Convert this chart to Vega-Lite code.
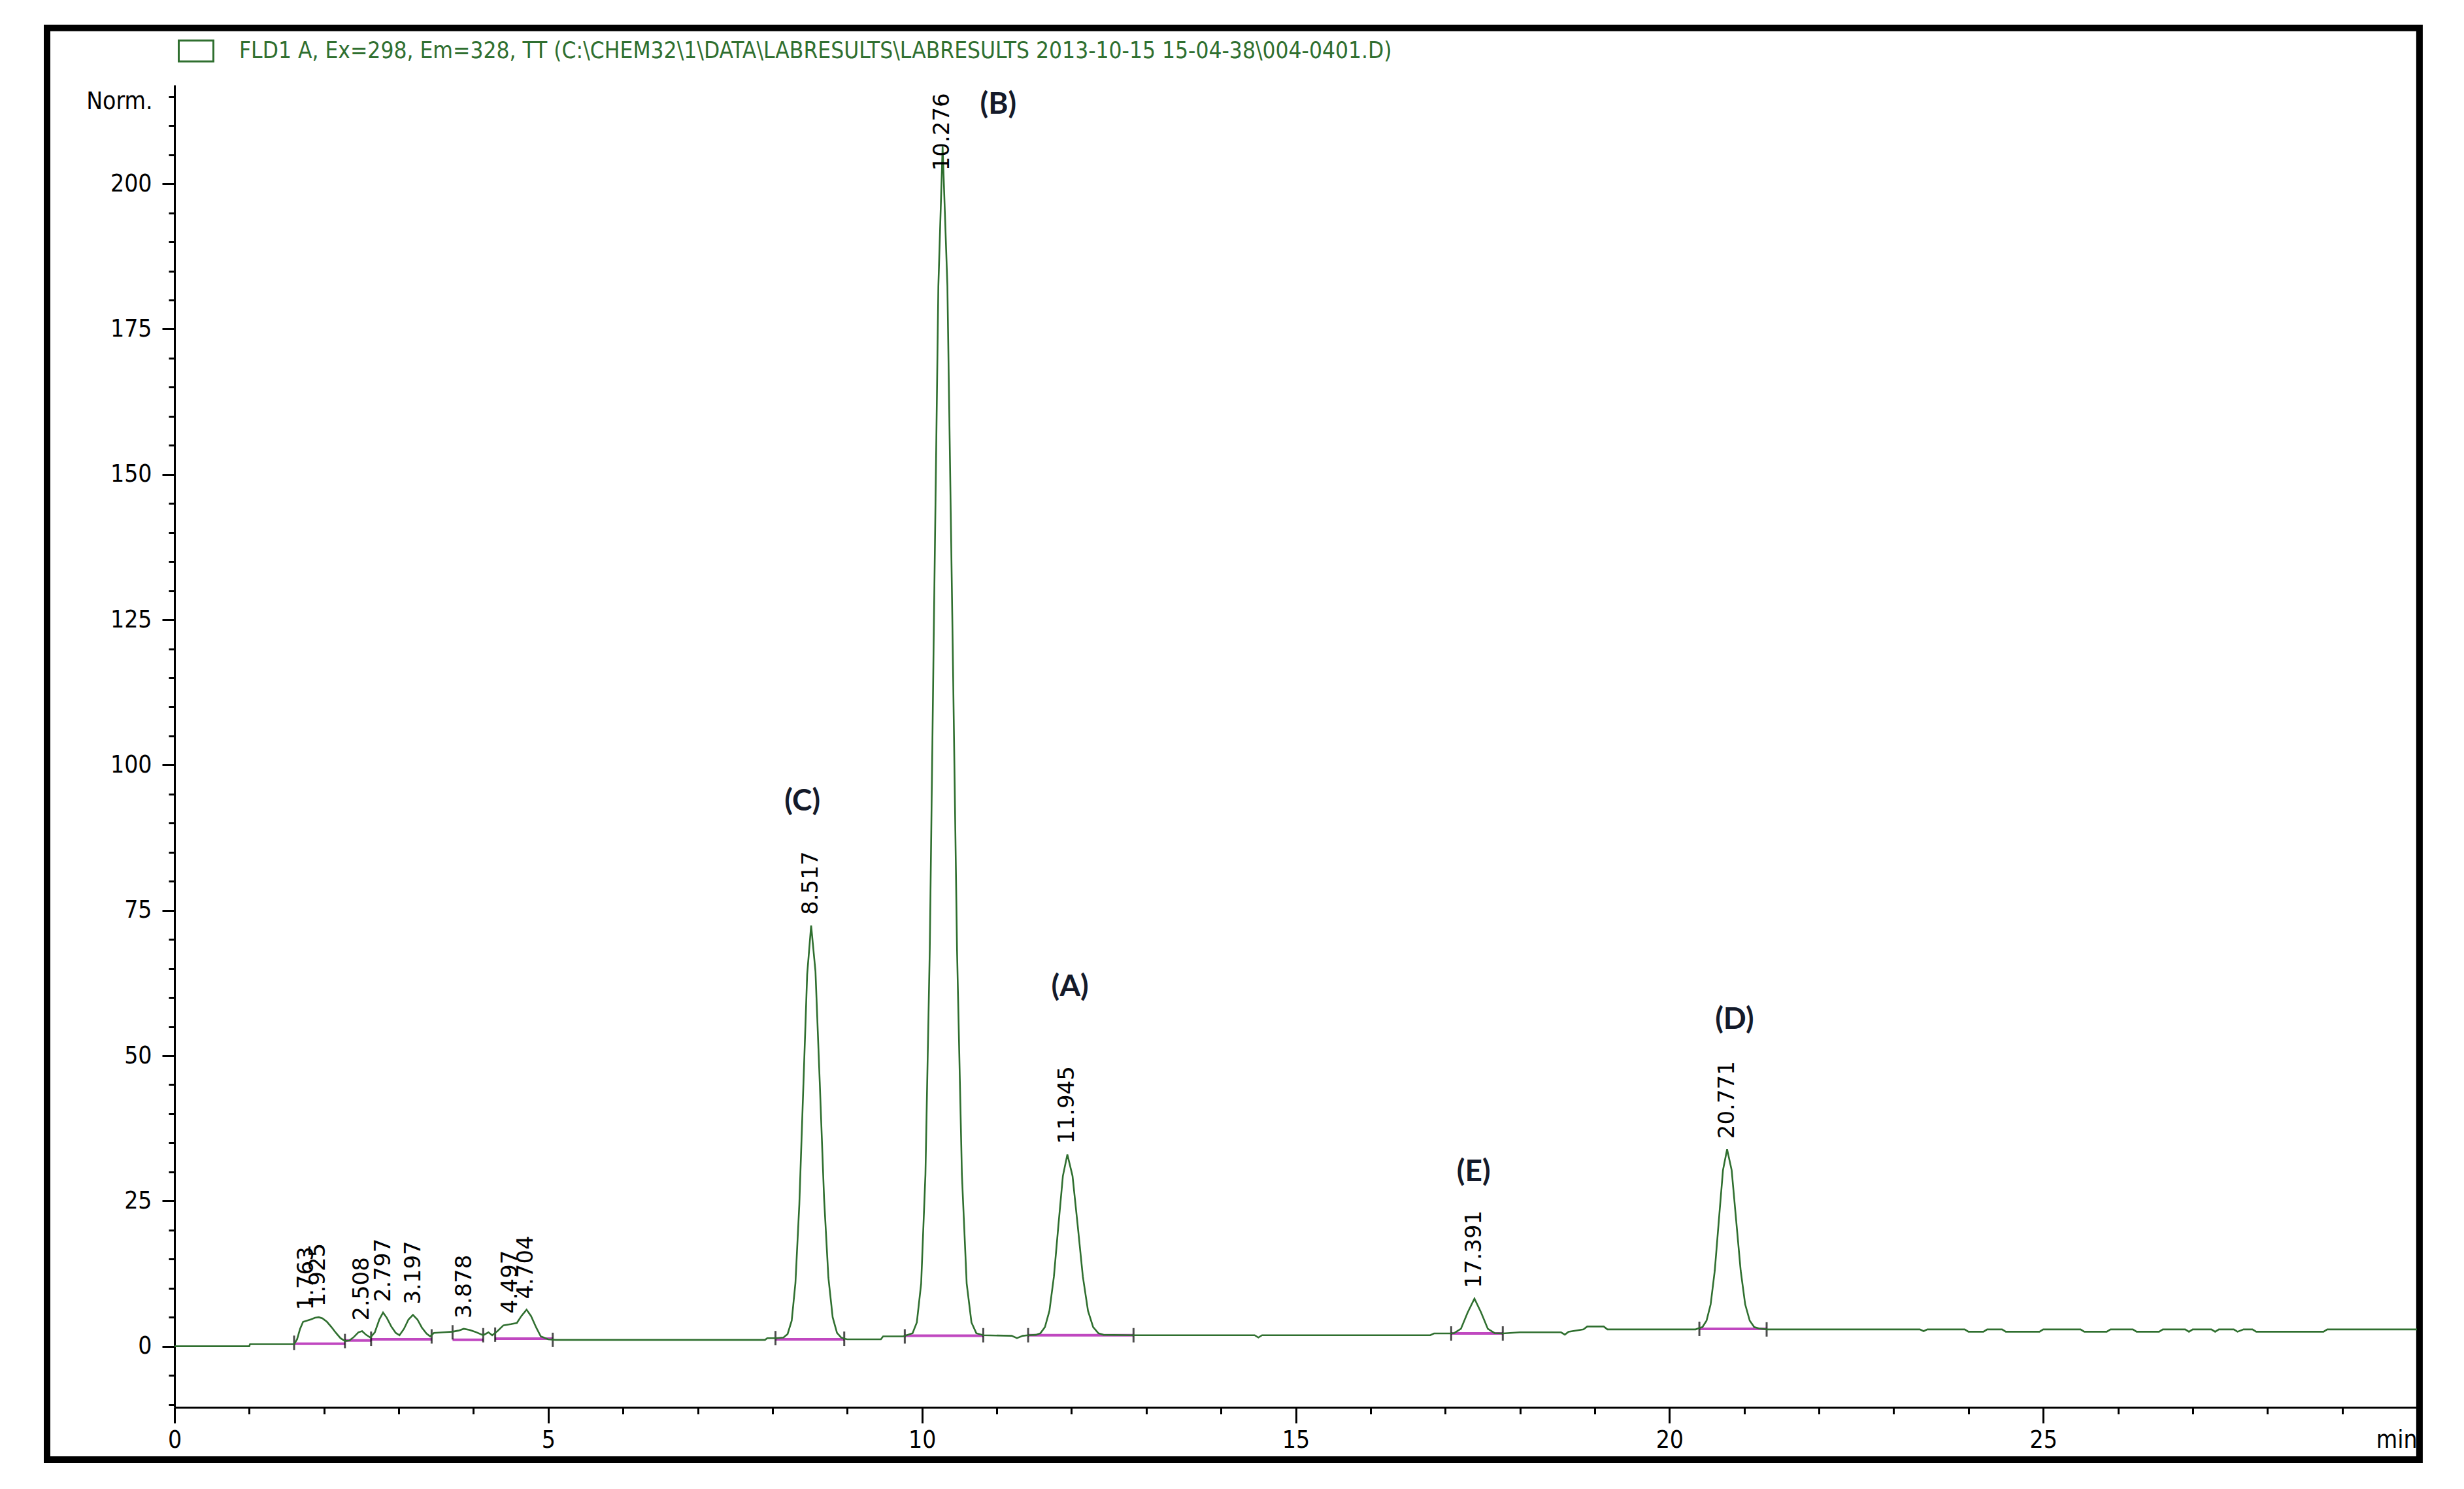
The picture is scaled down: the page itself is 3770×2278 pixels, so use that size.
{
  "$schema": "https://vega.github.io/schema/vega-lite/v6.json",
  "width": 3431,
  "height": 2023,
  "autosize": "none",
  "padding": {"left": 267, "top": 130, "right": 72, "bottom": 125},
  "background": "white",
  "config": {
    "view": {"stroke": null},
    "axis": {
      "grid": false,
      "domainColor": "black",
      "domainWidth": 3,
      "tickColor": "black",
      "tickWidth": 3,
      "labelColor": "black",
      "labelFont": "Liberation Sans Narrow, DejaVu Sans Condensed, Arial Narrow, sans-serif",
      "labelFontSize": 37,
      "titleColor": "black",
      "titleFont": "Liberation Sans Narrow, DejaVu Sans Condensed, Arial Narrow, sans-serif",
      "titleFontSize": 37,
      "titleFontWeight": "normal"
    }
  },
  "datasets": {
    "trace": [
      {"t": 0, "v": 0}, {"t": 1.0, "v": 0}, {"t": 1.01, "v": 0.35}, {"t": 1.6, "v": 0.35},
      {"t": 1.64, "v": 1.2}, {"t": 1.68, "v": 3.0}, {"t": 1.72, "v": 4.2}, {"t": 1.77, "v": 4.4},
      {"t": 1.82, "v": 4.6}, {"t": 1.88, "v": 4.9}, {"t": 1.93, "v": 5.0}, {"t": 1.98, "v": 4.8},
      {"t": 2.04, "v": 4.2}, {"t": 2.10, "v": 3.3}, {"t": 2.16, "v": 2.3}, {"t": 2.22, "v": 1.4},
      {"t": 2.28, "v": 0.9}, {"t": 2.34, "v": 1.0}, {"t": 2.40, "v": 1.6}, {"t": 2.46, "v": 2.4},
      {"t": 2.51, "v": 2.6}, {"t": 2.56, "v": 2.0}, {"t": 2.62, "v": 1.5}, {"t": 2.68, "v": 2.4},
      {"t": 2.74, "v": 4.6}, {"t": 2.79, "v": 5.8}, {"t": 2.84, "v": 4.9}, {"t": 2.90, "v": 3.4},
      {"t": 2.96, "v": 2.3}, {"t": 3.01, "v": 1.9}, {"t": 3.07, "v": 3.0}, {"t": 3.13, "v": 4.6},
      {"t": 3.19, "v": 5.4}, {"t": 3.25, "v": 4.6}, {"t": 3.31, "v": 3.2}, {"t": 3.37, "v": 2.2},
      {"t": 3.42, "v": 1.7}, {"t": 3.47, "v": 2.3}, {"t": 3.60, "v": 2.4}, {"t": 3.72, "v": 2.5},
      {"t": 3.80, "v": 2.7}, {"t": 3.87, "v": 3.0}, {"t": 3.95, "v": 2.8}, {"t": 4.02, "v": 2.5},
      {"t": 4.13, "v": 1.9}, {"t": 4.20, "v": 2.4}, {"t": 4.25, "v": 1.9}, {"t": 4.32, "v": 2.6},
      {"t": 4.40, "v": 3.6}, {"t": 4.50, "v": 3.8}, {"t": 4.58, "v": 4.0}, {"t": 4.64, "v": 5.2},
      {"t": 4.71, "v": 6.3}, {"t": 4.77, "v": 5.2}, {"t": 4.84, "v": 3.2}, {"t": 4.90, "v": 1.7},
      {"t": 5.0, "v": 1.2}, {"t": 5.1, "v": 1.1}, {"t": 7.9, "v": 1.1}, {"t": 7.93, "v": 1.4},
      {"t": 8.05, "v": 1.4}, {"t": 8.147, "v": 1.5}, {"t": 8.202, "v": 2.1}, {"t": 8.257, "v": 4.4},
      {"t": 8.307, "v": 10.9}, {"t": 8.359, "v": 24.4}, {"t": 8.412, "v": 44.4}, {"t": 8.464, "v": 64.0},
      {"t": 8.517, "v": 72.4}, {"t": 8.575, "v": 64.5}, {"t": 8.632, "v": 45.5}, {"t": 8.69, "v": 25.5},
      {"t": 8.748, "v": 11.8}, {"t": 8.805, "v": 5.0}, {"t": 8.863, "v": 2.3}, {"t": 8.92, "v": 1.5},
      {"t": 8.96, "v": 1.3}, {"t": 9.0, "v": 1.2}, {"t": 9.45, "v": 1.2}, {"t": 9.48, "v": 1.7},
      {"t": 9.75, "v": 1.7}, {"t": 9.874, "v": 2.25}, {"t": 9.931, "v": 4.1}, {"t": 9.989, "v": 10.8},
      {"t": 10.046, "v": 29.5}, {"t": 10.104, "v": 68.2}, {"t": 10.161, "v": 125.9}, {"t": 10.219, "v": 182.4},
      {"t": 10.276, "v": 206.4}, {"t": 10.34, "v": 182.4}, {"t": 10.405, "v": 125.9}, {"t": 10.469, "v": 68.2},
      {"t": 10.534, "v": 29.5}, {"t": 10.598, "v": 10.8}, {"t": 10.662, "v": 4.1}, {"t": 10.727, "v": 2.25},
      {"t": 10.82, "v": 1.9}, {"t": 11.2, "v": 1.8}, {"t": 11.27, "v": 1.4}, {"t": 11.35, "v": 1.8},
      {"t": 11.42, "v": 1.9}, {"t": 11.525, "v": 1.97}, {"t": 11.585, "v": 2.25}, {"t": 11.645, "v": 3.3},
      {"t": 11.705, "v": 6.1}, {"t": 11.765, "v": 12.0}, {"t": 11.825, "v": 20.8}, {"t": 11.885, "v": 29.3},
      {"t": 11.945, "v": 33.0}, {"t": 12.014, "v": 29.3}, {"t": 12.083, "v": 20.8}, {"t": 12.152, "v": 12.0},
      {"t": 12.221, "v": 6.1}, {"t": 12.29, "v": 3.3}, {"t": 12.359, "v": 2.25}, {"t": 12.428, "v": 1.97},
      {"t": 12.83, "v": 1.9}, {"t": 14.45, "v": 1.9}, {"t": 14.5, "v": 1.5}, {"t": 14.55, "v": 1.9},
      {"t": 16.8, "v": 1.9}, {"t": 16.85, "v": 2.2}, {"t": 17.08, "v": 2.2}, {"t": 17.12, "v": 2.27},
      {"t": 17.21, "v": 3.0}, {"t": 17.30, "v": 5.8}, {"t": 17.391, "v": 8.2}, {"t": 17.48, "v": 5.8},
      {"t": 17.57, "v": 3.0}, {"t": 17.66, "v": 2.27}, {"t": 17.77, "v": 2.2}, {"t": 18.0, "v": 2.4},
      {"t": 18.55, "v": 2.4}, {"t": 18.6, "v": 2.0}, {"t": 18.65, "v": 2.5}, {"t": 18.85, "v": 2.9},
      {"t": 18.9, "v": 3.4}, {"t": 19.12, "v": 3.4}, {"t": 19.17, "v": 2.9}, {"t": 20.35, "v": 2.9},
      {"t": 20.386, "v": 3.07}, {"t": 20.441, "v": 3.3}, {"t": 20.496, "v": 4.4}, {"t": 20.551, "v": 7.2},
      {"t": 20.606, "v": 13.0}, {"t": 20.661, "v": 21.7}, {"t": 20.716, "v": 30.3}, {"t": 20.771, "v": 33.9},
      {"t": 20.832, "v": 30.3}, {"t": 20.892, "v": 21.7}, {"t": 20.953, "v": 13.0}, {"t": 21.013, "v": 7.2},
      {"t": 21.074, "v": 4.4}, {"t": 21.134, "v": 3.3}, {"t": 21.195, "v": 3.07}, {"t": 21.3, "v": 2.9},
      {"t": 23.35, "v": 2.9}, {"t": 23.4, "v": 2.6}, {"t": 23.45, "v": 2.9}, {"t": 23.95, "v": 2.9},
      {"t": 24.0, "v": 2.5}, {"t": 24.2, "v": 2.5}, {"t": 24.25, "v": 2.9}, {"t": 24.45, "v": 2.9},
      {"t": 24.5, "v": 2.5}, {"t": 24.95, "v": 2.5}, {"t": 25.0, "v": 2.9}, {"t": 25.5, "v": 2.9},
      {"t": 25.55, "v": 2.5}, {"t": 25.85, "v": 2.5}, {"t": 25.9, "v": 2.9}, {"t": 26.2, "v": 2.9},
      {"t": 26.25, "v": 2.5}, {"t": 26.55, "v": 2.5}, {"t": 26.6, "v": 2.9}, {"t": 26.9, "v": 2.9},
      {"t": 26.95, "v": 2.5}, {"t": 27.0, "v": 2.9}, {"t": 27.25, "v": 2.9}, {"t": 27.3, "v": 2.5},
      {"t": 27.35, "v": 2.9}, {"t": 27.55, "v": 2.9}, {"t": 27.6, "v": 2.5}, {"t": 27.68, "v": 2.9},
      {"t": 27.8, "v": 2.9}, {"t": 27.85, "v": 2.5}, {"t": 28.75, "v": 2.5}, {"t": 28.8, "v": 2.9},
      {"t": 30, "v": 2.9}
    ],
    "peaks": [
      {"rt": 1.763, "h": 4.4}, {"rt": 1.925, "h": 5.0}, {"rt": 2.508, "h": 2.6}, {"rt": 2.797, "h": 5.8},
      {"rt": 3.197, "h": 5.4}, {"rt": 3.878, "h": 3.0}, {"rt": 4.497, "h": 3.8}, {"rt": 4.704, "h": 6.3},
      {"rt": 8.517, "h": 72.4}, {"rt": 10.276, "h": 206.4}, {"rt": 11.945, "h": 33.0},
      {"rt": 17.391, "h": 8.2}, {"rt": 20.771, "h": 33.9}
    ],
    "letters": [
      {"t": 8.40, "v": 93.7, "name": "(C)"},
      {"t": 11.02, "v": 213.6, "name": "(B)"},
      {"t": 11.98, "v": 61.8, "name": "(A)"},
      {"t": 17.38, "v": 30.0, "name": "(E)"},
      {"t": 20.87, "v": 56.2, "name": "(D)"}
    ],
    "baselines": [
      {"start": 1.60, "end": 2.28, "level": 0.45},
      {"start": 2.28, "end": 2.63, "level": 1.0},
      {"start": 2.63, "end": 3.44, "level": 1.2},
      {"start": 3.72, "end": 4.13, "level": 1.1},
      {"start": 4.29, "end": 5.06, "level": 1.3},
      {"start": 8.04, "end": 8.96, "level": 1.2},
      {"start": 9.77, "end": 10.82, "level": 1.8},
      {"start": 11.42, "end": 12.83, "level": 1.9},
      {"start": 17.08, "end": 17.77, "level": 2.2},
      {"start": 20.40, "end": 21.30, "level": 3.0}
    ],
    "bounds": [
      {"t": 1.60, "v": 0.6}, {"t": 2.28, "v": 0.9}, {"t": 2.63, "v": 1.3}, {"t": 3.44, "v": 1.7},
      {"t": 3.72, "v": 2.4}, {"t": 4.13, "v": 1.9}, {"t": 4.29, "v": 2.0}, {"t": 5.06, "v": 1.1},
      {"t": 8.04, "v": 1.4}, {"t": 8.96, "v": 1.3}, {"t": 9.77, "v": 1.7}, {"t": 10.82, "v": 1.9},
      {"t": 11.42, "v": 1.9}, {"t": 12.83, "v": 1.9}, {"t": 17.08, "v": 2.2}, {"t": 17.77, "v": 2.2},
      {"t": 20.40, "v": 3.0}, {"t": 21.30, "v": 2.9}
    ]
  },
  "layer": [
    {
      "data": {"values": [{}]},
      "mark": {"type": "rect", "fill": null, "stroke": "black", "strokeWidth": 10},
      "encoding": {
        "x": {"datum": -1.705, "type": "quantitative", "scale": {"domain": [0, 30], "nice": false, "zero": false}, "axis": null},
        "x2": {"datum": 30.034},
        "y": {"datum": 226.8, "type": "quantitative", "scale": {"domain": [-10.5, 217], "nice": false, "zero": false}, "axis": null},
        "y2": {"datum": -19.5}
      }
    },
    {
      "data": {"name": "baselines"},
      "mark": {"type": "rule", "color": "#c048c0", "strokeWidth": 4},
      "encoding": {
        "x": {"field": "start", "type": "quantitative", "axis": null},
        "x2": {"field": "end"},
        "y": {"field": "level", "type": "quantitative", "axis": null}
      }
    },
    {
      "data": {"name": "bounds"},
      "mark": {"type": "tick", "orient": "vertical", "size": 22, "thickness": 3, "color": "black"},
      "encoding": {
        "x": {"field": "t", "type": "quantitative", "axis": {"orient": "bottom", "values": [1,2,3,4,6,7,8,9,11,12,13,14,16,17,18,19,21,22,23,24,26,27,28,29], "tickSize": 10, "labels": false, "domain": false, "title": null}},
        "y": {"field": "v", "type": "quantitative", "axis": {"orient": "left", "values": [-10,-5,5,10,15,20,30,35,40,45,55,60,65,70,80,85,90,95,105,110,115,120,130,135,140,145,155,160,165,170,180,185,190,195,205,210,215], "tickSize": 9, "labels": false, "domain": false, "title": null}}
      }
    },
    {
      "data": {"name": "trace"},
      "mark": {"type": "line", "strokeWidth": 2.6, "interpolate": "linear"},
      "encoding": {
        "x": {"field": "t", "type": "quantitative", "axis": {"orient": "bottom", "values": [0,5,10,15,20,25,30], "tickSize": 24, "labelPadding": 8, "labelFlush": false, "labelOverlap": false, "labelExpr": "datum.value == 30 ? 'min' : datum.label", "labelAlign": {"condition": {"test": "datum.value == 30", "value": "right"}, "value": "center"}, "title": null}},
        "y": {"field": "v", "type": "quantitative", "axis": {"orient": "left", "values": [0,25,50,75,100,125,150,175,200], "tickSize": 19, "labelPadding": 16, "title": "Norm.", "titleAngle": 0, "titleAlign": "right", "titleBaseline": "middle", "titleX": -34, "titleY": 25}},
        "color": {
          "datum": "FLD1 A, Ex=298, Em=328, TT (C:\\CHEM32\\1\\DATA\\LABRESULTS\\LABRESULTS 2013-10-15 15-04-38\\004-0401.D)",
          "type": "nominal",
          "scale": {"range": ["#2f6f2f"]},
          "legend": {
            "orient": "none", "legendX": 5, "legendY": -80, "title": null, "padding": 0,
            "symbolType": "M-1,-0.6H1V0.6H-1Z", "symbolSize": 2809, "symbolStrokeWidth": 3,
            "symbolFillColor": "transparent", "symbolStrokeColor": "#2f6f2f",
            "labelFont": "Liberation Sans Narrow, DejaVu Sans Condensed, Arial Narrow, sans-serif",
            "labelFontSize": 35, "labelColor": "#2f6f2f", "labelLimit": 3000, "labelOffset": 38
          }
        }
      }
    },
    {
      "data": {"name": "peaks"},
      "transform": [{"filter": "datum.h < 150"}],
      "mark": {"type": "text", "angle": 270, "align": "left", "baseline": "middle", "dx": 16, "font": "DejaVu Sans", "fontSize": 34, "color": "black"},
      "encoding": {
        "x": {"field": "rt", "type": "quantitative", "axis": null},
        "y": {"field": "h", "type": "quantitative", "axis": null},
        "text": {"field": "rt", "type": "quantitative", "format": ".3f"}
      }
    },
    {
      "data": {"name": "peaks"},
      "transform": [{"filter": "datum.h >= 150"}],
      "mark": {"type": "text", "angle": 270, "align": "left", "baseline": "middle", "dx": -37, "font": "DejaVu Sans", "fontSize": 34, "color": "black"},
      "encoding": {
        "x": {"field": "rt", "type": "quantitative", "axis": null},
        "y": {"field": "h", "type": "quantitative", "axis": null},
        "text": {"field": "rt", "type": "quantitative", "format": ".3f"}
      }
    },
    {
      "data": {"name": "letters"},
      "mark": {"type": "text", "align": "center", "baseline": "middle", "font": "Lato", "fontWeight": "bold", "fontSize": 46, "color": "#141a2a"},
      "encoding": {
        "x": {"field": "t", "type": "quantitative", "axis": null},
        "y": {"field": "v", "type": "quantitative", "axis": null},
        "text": {"field": "name"}
      }
    }
  ],
  "resolve": {"axis": {"x": "independent", "y": "independent"}}
}
